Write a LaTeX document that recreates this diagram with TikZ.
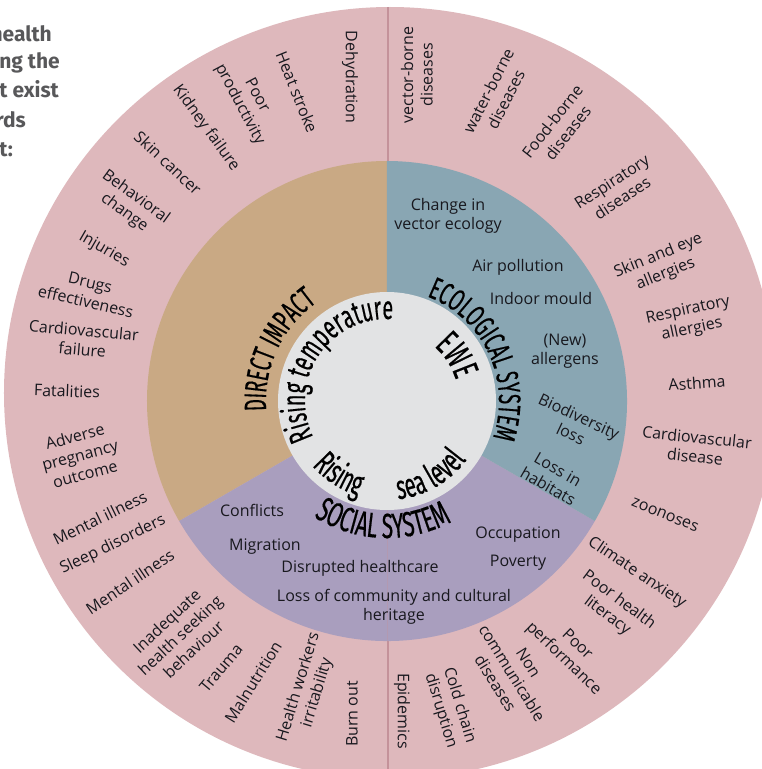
\documentclass[tikz,border=0pt]{standalone}
\usepackage{fontspec}
\setmainfont{Open Sans}
\newfontfamily\condfont{Fira Sans}[FakeStretch=0.6,FakeBold=0.4]
\newfontfamily\notefont{Fira Sans}
\usetikzlibrary{decorations.text}
\definecolor{ringpink}{RGB}{222,184,188}
\definecolor{divider}{RGB}{196,146,154}
\definecolor{impact}{RGB}{201,169,132}
\definecolor{ecology}{RGB}{137,166,179}
\definecolor{social}{RGB}{169,158,190}
\definecolor{core}{RGB}{226,227,228}
\definecolor{ink}{RGB}{24,24,30}
\definecolor{notegray}{RGB}{88,88,90}

\begin{document}
\begin{tikzpicture}[x=1pt,y=1pt,
lbl/.style={font=\fontsize{16}{19.5}\selectfont,align=center,text=ink,inner sep=0pt},
note/.style={font=\notefont\bfseries\fontsize{21}{24}\selectfont,text=notegray,anchor=base east,inner sep=0pt}]
\useasboundingbox (-387,-368) rectangle (375,401);
\fill[ringpink] (3,8) circle[radius=386];
\draw[divider,line width=1.2pt] (1,394)--(1,-378);
\fill[impact] (0,0)--(90:240) arc[start angle=90,end angle=210,radius=240]--cycle;
\fill[social] (0,0)--(210:240) arc[start angle=210,end angle=330,radius=240]--cycle;
\fill[ecology] (0,0)--(330:240) arc[start angle=330,end angle=450,radius=240]--cycle;
\draw[divider,opacity=.35] (0,-109)--(0,-240);
\fill[core] (0,0) circle[radius=109];

\node[note] (n1) at (-335,359) {health};
\node[note] (n2) at (-327,332) {ing the};
\node[note] (n3) at (-328,303) {t exist};
\node[note] (n4) at (-361,273) {rds};
\node[note] (n5) at (-374,244) {t:};

\path[decorate,decoration={text along path,text align=center,
  text={|\condfont\fontsize{31}{31}\selectfont\color{black}|DIRECT IMPACT}}]
  (225:121) arc[start angle=225,end angle=85,radius=121];
\path[decorate,decoration={text along path,text align=center,
  text={|\condfont\fontsize{31}{31}\selectfont\color{black}|ECOLOGICAL SYSTEM}}]
  (100:112) arc[start angle=100,end angle=-50,radius=112];
\path[decorate,decoration={text along path,text align=center,
  text={|\condfont\fontsize{35}{35}\selectfont\color{black}|SOCIAL SYSTEM}}]
  (198:137) arc[start angle=198,end angle=338,radius=137];
\path[decorate,decoration={text along path,text align=center,
  text={|\condfont\fontsize{33}{33}\selectfont\color{black}|Rising temperature}}]
  (226:82) arc[start angle=226,end angle=66,radius=82];
\path[decorate,decoration={text along path,text align=center,
  text={|\condfont\fontsize{34}{34}\selectfont\color{black}|Rising}}]
  (197:99) arc[start angle=197,end angle=277,radius=99];
\path[decorate,decoration={text along path,text align=center,
  text={|\condfont\fontsize{34}{34}\selectfont\color{black}|sea level}}]
  (255:99) arc[start angle=255,end angle=345,radius=99];
\path[decorate,decoration={text along path,text align=center,
  text={|\condfont\fontsize{36}{36}\selectfont\color{black}|EWE}}]
  (78:72) arc[start angle=78,end angle=-12,radius=72];

\node[lbl] (vecol) at (61,185) {Change in\\vector ecology};
\node[lbl] (airpol) at (131,134) {Air pollution};
\node[lbl] (mould) at (154,103) {Indoor mould};
\node[lbl] (allerg) at (178,50) {(New)\\allergens};
\node[lbl,rotate=-25] (biodiv) at (188,-24) {Biodiversity\\loss};
\node[lbl,rotate=-30] (habit) at (166,-77) {Loss in\\habitats};
\node[lbl] (confl) at (-135,-109) {Conflicts};
\node[lbl] (migr) at (-122,-146) {Migration};
\node[lbl] (disrup) at (-27,-167) {Disrupted healthcare};
\node[lbl] (herit) at (7,-206) {Loss of community and cultural\\heritage};
\node[lbl] (occup) at (131,-134) {Occupation};
\node[lbl] (pover) at (131,-162) {Poverty};

\node[lbl,rotate=-90] (dehyd) at (-37,324) {Dehydration};
\node[lbl,rotate=-68] (heat) at (-90,309) {Heat stroke};
\node[lbl,rotate=-62] (produc) at (-139,301) {Poor\\productivity};
\node[lbl,rotate=-54] (kidney) at (-181,273) {Kidney failure};
\node[lbl,rotate=-43] (skinc) at (-219,238) {Skin cancer};
\node[lbl,rotate=-36] (behav) at (-257,196) {Behavioral\\change};
\node[lbl,rotate=-30] (injur) at (-283,151) {Injuries};
\node[lbl,rotate=-13] (drugs) at (-299,109) {Drugs\\effectiveness};
\node[lbl,rotate=-5] (cardf) at (-304,61) {Cardiovascular\\failure};
\node[lbl,rotate=-2] (fatal) at (-320,10) {Fatalities};
\node[lbl,rotate=15] (pregn) at (-307,-54) {Adverse\\pregnancy\\outcome};
\node[lbl,rotate=26] (menta) at (-287,-117) {Mental illness};
\node[lbl,rotate=26] (sleep) at (-274,-144) {Sleep disorders};
\node[lbl,rotate=34] (mentb) at (-257,-181) {Mental illness};
\node[lbl,rotate=43] (seek) at (-207,-234) {Inadequate\\health seeking\\behaviour};
\node[lbl,rotate=50] (traum) at (-166,-267) {Trauma};
\node[lbl,rotate=58] (malnu) at (-134,-281) {Malnutrition};
\node[lbl,rotate=73] (irrit) at (-79,-289) {Health workers\\irritability};
\node[lbl,rotate=90] (burn) at (-35,-313) {Burn out};
\node[lbl,rotate=-90] (epid) at (15,-310) {Epidemics};
\node[lbl,rotate=-73] (cold) at (63,-307) {Cold chain\\disruption};
\node[lbl,rotate=-58] (ncd) at (125,-272) {Non\\communicable\\diseases};
\node[lbl,rotate=-44] (perf) at (183,-251) {Poor\\performance};
\node[lbl,rotate=-37] (liter) at (226,-207) {Poor health\\literacy};
\node[lbl,rotate=-34] (anxi) at (250,-172) {Climate anxiety};
\node[lbl,rotate=-22] (zoon) at (278,-114) {zoonoses};
\node[lbl,rotate=-6] (cardd) at (309,-46) {Cardiovascular\\disease};
\node[lbl,rotate=4] (asth) at (310,18) {Asthma};
\node[lbl,rotate=12] (respa) at (303,81) {Respiratory\\allergies};
\node[lbl,rotate=22] (skine) at (275,136) {Skin and eye\\allergies};
\node[lbl,rotate=33] (respd) at (230,211) {Respiratory\\diseases};
\node[lbl,rotate=52] (food) at (173,274) {Food-borne\\diseases};
\node[lbl,rotate=63] (water) at (110,306) {water-borne\\diseases};
\node[lbl,rotate=90] (vbd) at (30,326) {vector-borne\\diseases};
\end{tikzpicture}
\end{document}
